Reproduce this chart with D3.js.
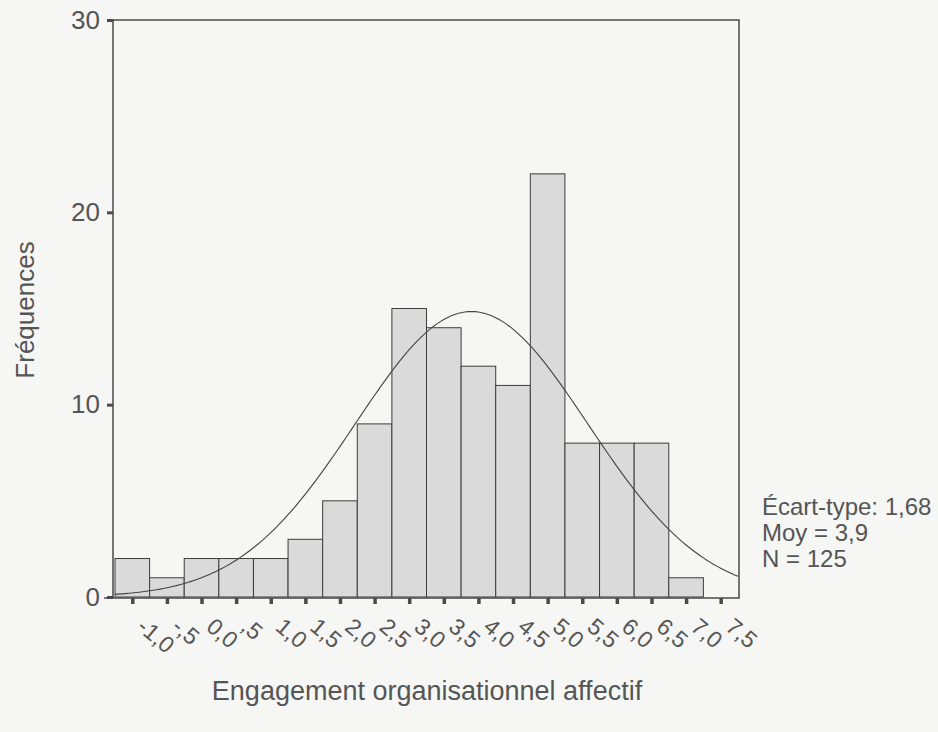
<!DOCTYPE html>
<html>
<head>
<meta charset="utf-8">
<script src="https://cdn.jsdelivr.net/npm/d3@7/dist/d3.min.js"></script>
<style>
  body { margin: 0; background: #f6f6f4; }
  svg { display: block; font-family: "Liberation Sans", Arial, sans-serif; }
</style>
</head>
<body>
<div id="canvas"></div>
<script>
// histogram bins (centre values), counts and tick labels
const centers = [-1.0, -0.5, 0.0, 0.5, 1.0, 1.5, 2.0, 2.5, 3.0, 3.5, 4.0, 4.5, 5.0, 5.5, 6.0, 6.5, 7.0, 7.5];
const counts  = [2, 1, 2, 2, 2, 3, 5, 9, 15, 14, 12, 11, 22, 8, 8, 8, 1, 0];
const tickLabels = ["-1,0", "-,5", "0,0", ",5", "1,0", "1,5", "2,0", "2,5", "3,0", "3,5",
                    "4,0", "4,5", "5,0", "5,5", "6,0", "6,5", "7,0", "7,5"];
const yTicks = [0, 10, 20, 30];
const stats = { sd: 1.68, mean: 3.9, n: 125, binWidth: 0.5 };
const statLines = ["Écart-type: 1,68", "Moy = 3,9", "N = 125"];

const width = 938, height = 732;
const frame = { left: 113, right: 739, top: 20, bottom: 598 };
const ink = "#4a4a4a";
const textCol = "#555";

const svg = d3.select("#canvas").append("svg")
  .attr("width", width).attr("height", height);

svg.append("rect").attr("width", width).attr("height", height).attr("fill", "#f6f6f4");

const x = d3.scaleLinear().domain([-1.25, 7.75]).range([115, 738]);
const y = d3.scaleLinear().domain([0, 30]).range([597, frame.top]);

// bars
svg.append("g").selectAll("rect")
  .data(centers.map((c, i) => ({ c, v: counts[i] })).filter(d => d.v > 0))
  .enter().append("rect")
  .attr("x", d => x(d.c - stats.binWidth / 2))
  .attr("width", d => x(d.c + stats.binWidth / 2) - x(d.c - stats.binWidth / 2))
  .attr("y", d => y(d.v))
  .attr("height", d => y(0) - y(d.v))
  .attr("fill", "#dadada")
  .attr("stroke", "#3c3c3c")
  .attr("stroke-width", 1);

// fitted normal curve from the reported mean / sd / N
const peak = stats.n * stats.binWidth / (stats.sd * Math.sqrt(2 * Math.PI));
const normal = v => peak * Math.exp(-0.5 * Math.pow((v - stats.mean) / stats.sd, 2));
const xs = d3.range(-1.25, 7.76, 0.05);
svg.append("path")
  .datum(xs)
  .attr("fill", "none")
  .attr("stroke", "#444")
  .attr("stroke-width", 1.1)
  .attr("d", d3.line().x(d => x(d)).y(d => y(normal(d))));

// frame
svg.append("rect")
  .attr("x", frame.left).attr("y", frame.top)
  .attr("width", frame.right - frame.left).attr("height", frame.bottom - frame.top)
  .attr("fill", "none").attr("stroke", ink).attr("stroke-width", 1.5);

// y axis
const gy = svg.append("g")
  .attr("transform", `translate(${frame.left},0)`)
  .call(d3.axisLeft(y).tickValues(yTicks).tickSize(6).tickPadding(7).tickFormat(d3.format("d")));
gy.select(".domain").remove();
gy.selectAll(".tick line").attr("stroke", ink).attr("stroke-width", 3);
gy.selectAll(".tick text").attr("fill", textCol).style("font-size", "26px")
  .style("font-family", "Liberation Sans, Arial, sans-serif");

// x axis
const gx = svg.append("g")
  .attr("transform", `translate(0,${frame.bottom})`)
  .call(d3.axisBottom(x).tickValues(centers).tickSize(6).tickFormat((d, i) => tickLabels[i]));
gx.select(".domain").remove();
gx.selectAll(".tick line").attr("stroke", ink).attr("stroke-width", 3.5);
gx.selectAll(".tick text")
  .attr("fill", textCol)
  .style("font-size", "23px")
  .style("font-family", "Liberation Sans, Arial, sans-serif")
  .attr("text-anchor", "start")
  .attr("y", 0).attr("dy", 0)
  .attr("transform", "translate(3,31) rotate(40)");

svg.append("line")
  .attr("x1", 104).attr("x2", frame.left)
  .attr("y1", frame.bottom).attr("y2", frame.bottom)
  .attr("stroke", ink).attr("stroke-width", 1.5);

// axis titles
svg.append("text")
  .attr("transform", `translate(34,310) rotate(-90)`)
  .attr("text-anchor", "middle")
  .attr("fill", textCol)
  .style("font-size", "26px")
  .text("Fréquences");

svg.append("text")
  .attr("x", 427).attr("y", 700)
  .attr("text-anchor", "middle")
  .attr("fill", textCol)
  .style("font-size", "27px")
  .text("Engagement organisationnel affectif");

// stats box
svg.append("g").selectAll("text")
  .data(statLines)
  .enter().append("text")
  .attr("x", 762)
  .attr("y", (d, i) => 515 + i * 26)
  .attr("fill", textCol)
  .style("font-size", "24px")
  .text(d => d);
</script>
</body>
</html>
